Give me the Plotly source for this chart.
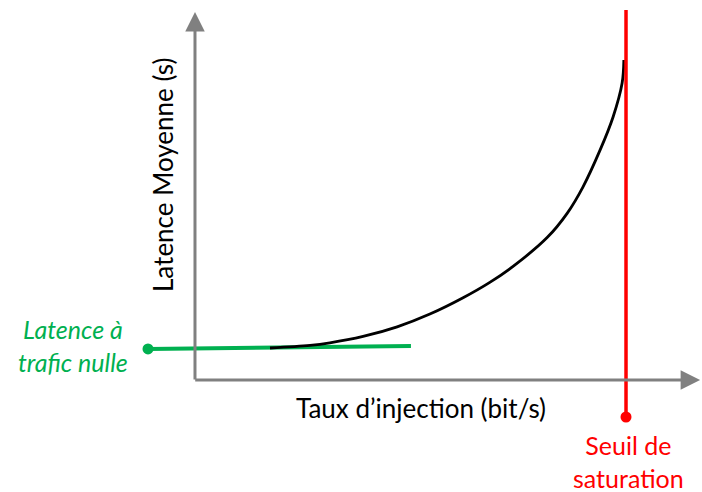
import plotly.graph_objects as go

# Injection rate as a fraction of the saturation threshold, latency in units of zero-load latency
rate = [0.174, 0.267, 0.313, 0.390, 0.469, 0.545, 0.622, 0.684, 0.738, 0.817,
        0.863, 0.900, 0.940, 0.970, 0.991, 0.995]
latency = [1.00, 1.08, 1.16, 1.36, 1.66, 2.06, 2.57, 3.05, 3.55, 4.45,
           5.20, 6.03, 7.19, 8.22, 9.28, 10.0]

zero_load_rate = [-0.109, 0.501]
zero_load_latency = [0.97, 1.06]

saturation_rate = 1.0
saturation_latency = [-1.156, 11.56]

x_axis_end = 1.172
y_axis_end = 11.5

FONT = "Lato"
GREY = "#808080"
GREEN = "#00b050"
RED = "#ff0000"

fig = go.Figure()

# zero-load latency line
fig.add_trace(go.Scatter(x=zero_load_rate, y=zero_load_latency, mode="lines",
                         line=dict(color=GREEN, width=4), hoverinfo="skip"))
fig.add_trace(go.Scatter(x=[zero_load_rate[0]], y=[zero_load_latency[0]], mode="markers",
                         marker=dict(color=GREEN, size=11), hoverinfo="skip"))
# latency curve
fig.add_trace(go.Scatter(x=rate, y=latency, mode="lines",
                         line=dict(color="black", width=2.8, shape="spline", smoothing=1.0),
                         hoverinfo="skip"))
# saturation line
fig.add_trace(go.Scatter(x=[saturation_rate, saturation_rate], y=saturation_latency, mode="lines",
                         line=dict(color=RED, width=3.5), hoverinfo="skip"))
fig.add_trace(go.Scatter(x=[saturation_rate], y=[saturation_latency[0]], mode="markers",
                         marker=dict(color=RED, size=11), hoverinfo="skip"))

# axes as arrows
fig.add_annotation(x=0, y=y_axis_end, ax=0, ay=-0.03, xref="x", yref="y", axref="x", ayref="y",
                   showarrow=True, arrowhead=2, arrowsize=1.3, arrowwidth=3, arrowcolor=GREY, text="")
fig.add_annotation(x=x_axis_end, y=0, ax=-0.003, ay=0, xref="x", yref="y", axref="x", ayref="y",
                   showarrow=True, arrowhead=2, arrowsize=1.3, arrowwidth=3, arrowcolor=GREY, text="")

# labels
fig.add_annotation(x=-0.074, y=6.41, xref="x", yref="y", text="Latence Moyenne (s)", textangle=-90,
                   showarrow=False, font=dict(family=FONT, size=26, color="black"))
fig.add_annotation(x=0.524, y=-0.88, xref="x", yref="y", text="Taux d’injection (bit/s)",
                   showarrow=False, font=dict(family=FONT, size=26, color="black"))
fig.add_annotation(x=-0.283, y=1.09, xref="x", yref="y", text="<i>Latence à<br>trafic nulle</i>",
                   showarrow=False, font=dict(family=FONT, size=25, color=GREEN))
fig.add_annotation(x=1.005, y=-2.56, xref="x", yref="y", text="Seuil de<br>saturation",
                   showarrow=False, font=dict(family=FONT, size=25, color=RED))

fig.update_layout(
    width=702, height=492, margin=dict(l=0, r=0, t=0, b=0),
    paper_bgcolor="white", plot_bgcolor="white", showlegend=False,
    xaxis=dict(range=[-0.4524, 1.1763], visible=False, fixedrange=True),
    yaxis=dict(range=[-3.5, 11.875], visible=False, fixedrange=True),
)

fig.write_html("out.html", config={"displayModeBar": False},
               post_script="document.body.style.margin='0';document.body.style.overflow='hidden';")
